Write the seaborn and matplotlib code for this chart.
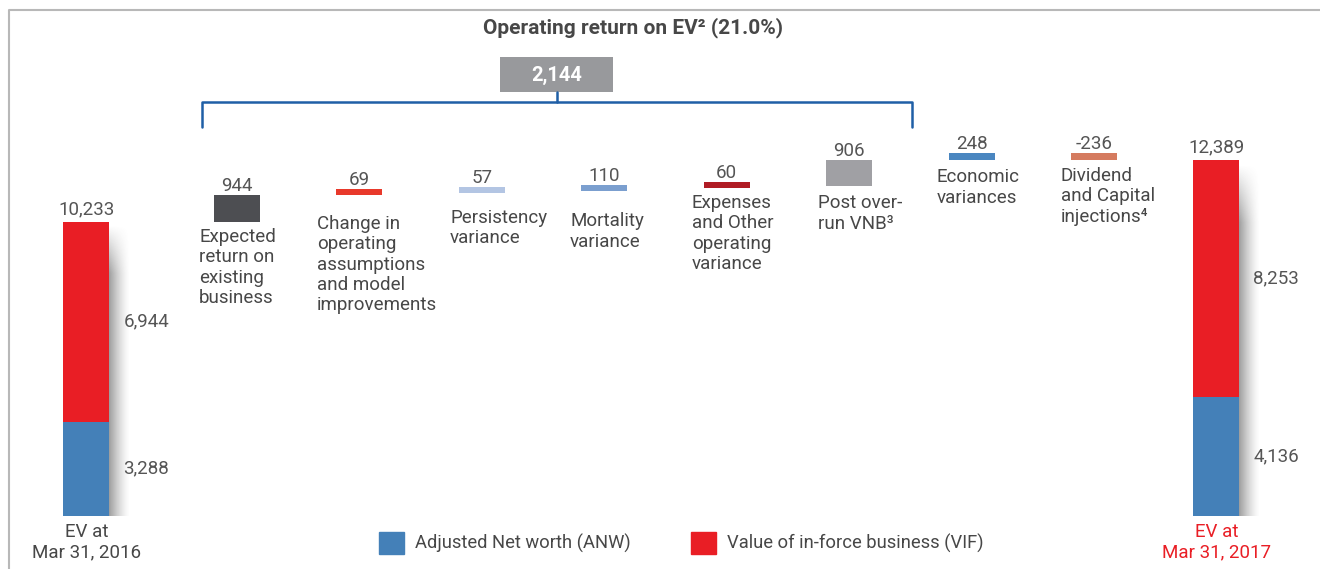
import numpy as np
import pandas as pd
import matplotlib.pyplot as plt
from matplotlib.patches import Patch, Rectangle
from matplotlib.lines import Line2D
import seaborn as sns

sns.set_theme(style='white')
plt.rcParams['font.family'] = ['Roboto', 'DejaVu Sans']

# --- data -------------------------------------------------------------
step_labels = ['Expected\nreturn on\nexisting\nbusiness',
               'Change in\noperating\nassumptions\nand model\nimprovements',
               'Persistency\nvariance',
               'Mortality\nvariance',
               'Expenses\nand Other\noperating\nvariance',
               'Post over-\nrun VNB\u00b3',
               'Economic\nvariances',
               'Dividend\nand Capital\ninjections\u2074']
step_values = [944, 69, 57, 110, 60, 906, 248, -236]
step_colors = ['#4d4e52', '#e8392b', '#b3c5e3', '#7b9fcf',
               '#b01c24', '#a0a0a4', '#4a86c0', '#d57b5f']

ev_labels = ['EV at\nMar 31, 2016', 'EV at\nMar 31, 2017']
ev_anw = [3288, 4136]
ev_vif = [6944, 8253]
ev_total = [10233, 12389]

operating_return = 2144
operating_pct = 21.0

# --- style -------------------------------------------------------------
TXT = '#474747'
NUM = '#555555'
RED = '#e91e25'
BLUE = '#4480b8'
W, H = 1320, 569
BAR_W = 0.376
MIN_H = 200            # minimum visible height for tiny steps
label_gap = [6, 20, 16, 21, 6, 8, 8, 7]   # px between bar bottom and label
label_dx = [-0.31, -0.345, -0.26, -0.28, -0.285, -0.255, -0.285, -0.27]

fig = plt.figure(figsize=(W / 100, H / 100), dpi=100)
ax = fig.add_axes([0, 0, 1, 1])
XL = (-0.936, 9.846)
YL = (-1845, 17959)


def fx(px):
    return px / W


def fy(py):
    return 1 - py / H


# EV bars (stacked: total in red, ANW overlaid in blue)
ev_pos = [-0.23, 9.0]
for i in range(2):
    d = pd.DataFrame({'x': [ev_pos[i]], 'total': [ev_total[i]], 'anw': [ev_anw[i]]})
    sns.barplot(data=d, x='x', y='total', native_scale=True, width=BAR_W,
                color=RED, saturation=1, errorbar=None, linewidth=0, ax=ax, zorder=3)
    sns.barplot(data=d, x='x', y='anw', native_scale=True, width=BAR_W,
                color=BLUE, saturation=1, errorbar=None, linewidth=0, ax=ax, zorder=4)
    # soft shadow on the right side, fading out to the right and at the top
    gx = np.linspace(0.65, 0, 60) ** 1.4
    gy = np.clip(np.linspace(0, 1, 80) * 6, 0, 1)[:, None]
    grad = np.zeros((80, 60, 4))
    grad[..., :3] = 0.3
    grad[..., 3] = gx[None, :] * gy
    ax.imshow(grad, extent=[ev_pos[i] + BAR_W / 2, ev_pos[i] + BAR_W / 2 + 0.17,
                            0, ev_total[i] * 0.99],
              aspect='auto', interpolation='bilinear', zorder=2, origin='upper')

# floating steps
step_pos = np.arange(1, 9)
bottoms = ev_total[0] + np.concatenate([[0], np.cumsum(step_values)[:-1]])
draw_h = [np.sign(v) * max(abs(v), MIN_H) for v in step_values]
ax.bar(step_pos, draw_h, bottom=bottoms, width=BAR_W, color=step_colors,
       linewidth=0, zorder=3)

ax.set_xlim(*XL)
ax.set_ylim(*YL)
ax.axis('off')

for x, b, h, v, lab, gap, dx in zip(step_pos, bottoms, draw_h, step_values,
                                     step_labels, label_gap, label_dx):
    top, low = max(b, b + h), min(b, b + h)
    ax.annotate(f'{v:,}', (x, top), xytext=(0, 0), textcoords='offset pixels',
                ha='center', va='bottom', fontsize=13.5, color=NUM)
    ax.annotate(lab, (x + dx, low), xytext=(0, -gap), textcoords='offset pixels',
                ha='left', va='top', fontsize=13.5, color=TXT, linespacing=1.17)

for i in range(2):
    x = ev_pos[i]
    ax.annotate(f'{ev_total[i]:,}', (x, ev_total[i]), xytext=(0, 4),
                textcoords='offset pixels', ha='center', va='bottom',
                fontsize=13.5, color=NUM)
    ax.annotate(f'{ev_vif[i]:,}', (x + BAR_W / 2, ev_anw[i] + ev_vif[i] / 2),
                xytext=(14, 0), textcoords='offset pixels', ha='left', va='center',
                fontsize=13.5, color=NUM)
    ax.annotate(f'{ev_anw[i]:,}', (x + BAR_W / 2, ev_anw[i] / 2),
                xytext=(14, 0), textcoords='offset pixels', ha='left', va='center',
                fontsize=13.5, color=NUM)
    ax.annotate(ev_labels[i], (x, 0), xytext=(0, -7), textcoords='offset pixels',
                ha='center', va='top', fontsize=13.5, linespacing=1.17,
                color=TXT if i == 0 else RED)

# header: operating return box and bracket
fig.text(fx(633), fy(28), f'Operating return on EV\u00b2 ({operating_pct:.1f}%)',
         ha='center', va='center', fontsize=15, fontweight='bold', color=TXT)
fig.patches.append(Rectangle((fx(500), fy(92)), fx(113), 35 / H,
                             transform=fig.transFigure, color='#98999c', lw=0))
fig.text(fx(557), fy(75), f'{operating_return:,}', ha='center', va='center',
         fontsize=14.5, fontweight='bold', color='white')
br = '#1f5fa6'
fig.lines.append(Line2D([fx(202), fx(202), fx(912), fx(912)],
                        [fy(127), fy(102), fy(102), fy(127)],
                        transform=fig.transFigure, color=br, lw=1.8))
fig.lines.append(Line2D([fx(557), fx(557)], [fy(92), fy(102)],
                        transform=fig.transFigure, color=br, lw=1.8))

# outer frame (top and left)
fig.lines.append(Line2D([fx(9), fx(9), fx(1320)], [fy(569), fy(10), fy(10)],
                        transform=fig.transFigure, color='#b8b8b8', lw=1.5))

# legend
handles = [Patch(color=BLUE, label='Adjusted Net worth (ANW)'),
           Patch(color=RED, label='Value of in-force business (VIF)')]
leg = fig.legend(handles=handles, loc='center', bbox_to_anchor=(fx(681), fy(543)),
                 ncol=2, frameon=False, fontsize=13.2, handlelength=1.4,
                 handleheight=1.45, handletextpad=0.55, columnspacing=3.3)
for t in leg.get_texts():
    t.set_color(TXT)

fig.savefig('out.png', dpi=100)
